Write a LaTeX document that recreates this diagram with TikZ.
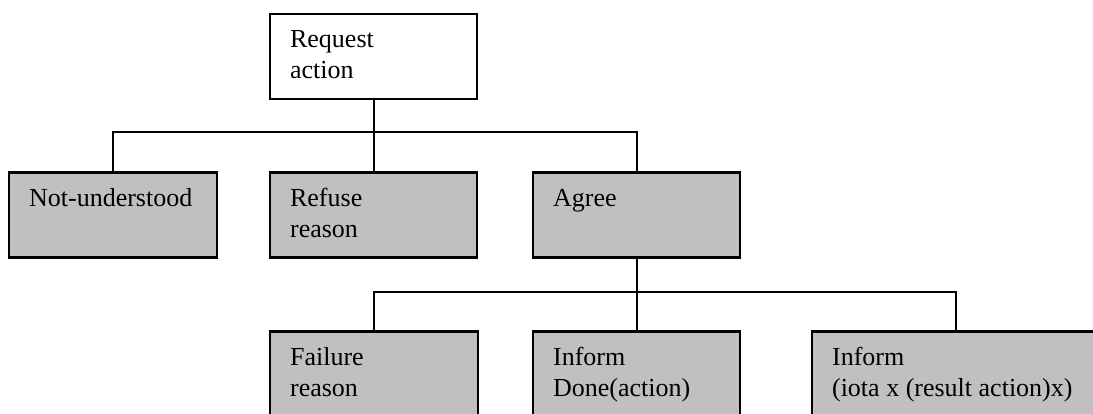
\documentclass[tikz,border=0pt]{standalone}
\usepackage{fontspec}
\setmainfont{Liberation Serif}
\newcommand{\twoline}[2]{\vtop{\hbox{#1}\hbox{#2}}}
\begin{document}
\begin{tikzpicture}[x=1pt,y=1pt,
  plainbox/.style={draw=black, line width=2.2pt, rectangle, inner sep=0pt,
    minimum height=85pt},
  greybox/.style={plainbox, fill=boxgrey},
  boxtext/.style={anchor=base west, inner sep=0pt,
    font=\fontsize{26}{31}\selectfont},
  link/.style={line width=2pt}]
\definecolor{boxgrey}{HTML}{C0C0C0}
\useasboundingbox (0,-413) rectangle (1093,0);
\clip (0,-413) rectangle (1093,0);

% boxes
\node[plainbox, minimum width=207pt] (req)  at (373.5,-56.5) {};
\node[greybox,  minimum width=208pt] (nu)   at (113,-215) {};
\node[greybox,  minimum width=207pt] (ref)  at (373.5,-215) {};
\node[greybox,  minimum width=207pt] (agr)  at (636.5,-215) {};
\node[greybox,  minimum width=208pt] (fail) at (374,-374) {};
\node[greybox,  minimum width=207pt] (done) at (636.5,-374) {};
\node[greybox,  minimum width=288pt] (iota) at (956,-374) {};

% texts
\node[boxtext] (reqt)  at ([shift={(21,-35)}]req.north west)  {\twoline{Request}{action}};
\node[boxtext] (nut)   at ([shift={(21,-35)}]nu.north west)   {Not-understood};
\node[boxtext] (reft)  at ([shift={(21,-35)}]ref.north west)  {\twoline{Refuse}{reason}};
\node[boxtext] (agrt)  at ([shift={(21,-35)}]agr.north west)  {Agree};
\node[boxtext] (failt) at ([shift={(21,-35)}]fail.north west) {\twoline{Failure}{reason}};
\node[boxtext] (donet) at ([shift={(21,-35)}]done.north west) {\twoline{Inform}{Done(action)}};
\node[boxtext] (iotat) at ([shift={(21,-35)}]iota.north west) {\twoline{Inform}{(iota x (result action)x)}};

% connectors
\coordinate (bus1) at (0,-132);
\coordinate (bus2) at (0,-292);
\draw[link] (req.south) -- (ref.north);
\draw[link] (nu.north) |- (bus1 -| agr.north) -- (agr.north);
\draw[link] (agr.south) -- (done.north);
\draw[link] (fail.north) |- (bus2 -| iota.north) -- (iota.north);
\end{tikzpicture}
\end{document}
